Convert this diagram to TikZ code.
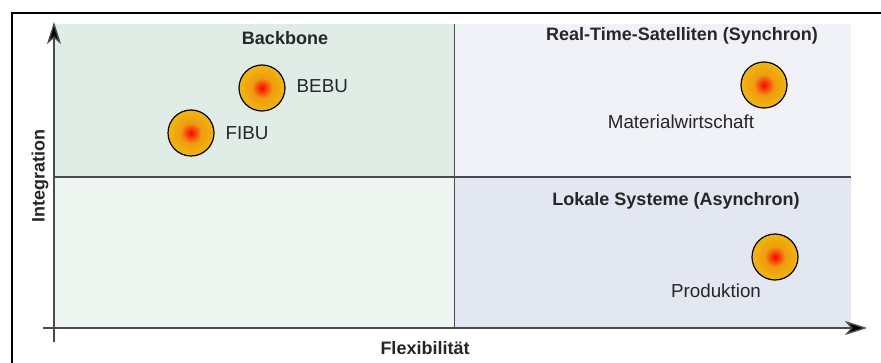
\documentclass[tikz,border=0pt]{standalone}
\usepackage{fontspec}
\setmainfont{Liberation Sans}
\usetikzlibrary{arrows.meta,positioning}

\definecolor{bbgreen}{HTML}{E0EDE7}
\definecolor{lowgreen}{HTML}{EFF5F1}
\definecolor{satblue}{HTML}{F0F2F7}
\definecolor{lokblue}{HTML}{E3E7F2}
\definecolor{axisgray}{HTML}{4A4A4A}
\definecolor{balledge}{HTML}{F3C300}
\definecolor{ballmid}{HTML}{EE9A12}
\pgfdeclareradialshading{ball}{\pgfpoint{0bp}{0bp}}{color(0bp)=(red);color(11bp)=(ballmid);color(30bp)=(balledge);color(50bp)=(balledge)}

\tikzset{
  system/.style={circle,draw=black,line width=0.6pt,shading=ball,minimum size=23pt,inner sep=0pt},
  sysname/.style={font=\fontsize{9.4}{11}\selectfont,text=black!85},
  quadtitle/.style={font=\bfseries\fontsize{9}{11}\selectfont,text=black!85},
  axis/.style={draw=axisgray,line width=0.7pt,-{Stealth[length=11pt,width=7pt,inset=3pt,fill=black]},shorten >=-1pt}
}

\begin{document}
\begin{tikzpicture}[x=0.5pt,y=-0.5pt]
  \useasboundingbox (0,0) rectangle (881,363);

  % Quadranten
  \fill[bbgreen] (54,24) rectangle (454,177);
  \fill[lowgreen] (54,177) rectangle (454,328);
  \fill[satblue] (454,24) rectangle (851,177);
  \fill[lokblue] (454,177) rectangle (851,328);
  \draw[axisgray,line width=0.5pt] (54,177) -- (851,177);
  \draw[axisgray,line width=0.5pt] (454,24) -- (454,328);

  % Rahmen
  \draw[black,line width=0.6pt] (12,363) -- (12,13) -- (881,13);

  % Achsen
  \coordinate (ystart) at (54,342);
  \coordinate (ytop) at (54,24);
  \coordinate (xstart) at (43,328);
  \coordinate (xend) at (865,328);
  \draw[axis] (ystart) -- (ytop);
  \draw[axis] (xstart) -- (xend);

  \node[quadtitle] (backbone) at (285,38) {Backbone};
  \node[quadtitle] (satelliten) at (682,36) {Real-Time-Satelliten (Synchron)};
  \node[quadtitle] (lokal) at (676,201) {Lokale Systeme (Asynchron)};
  \node[quadtitle,rotate=90] (integration) at (40,176) {Integration};
  \node[quadtitle] (flexibilitaet) at (425,348) {Flexibilität};

  % Systeme
  \node[system] (bebu) at (262,88) {};
  \node[sysname,right=2pt of bebu,yshift=1pt] (bebulabel) {BEBU};
  \node[system] (fibu) at (191,133) {};
  \node[sysname,right=2pt of fibu] (fibulabel) {FIBU};
  \node[system] (mawi) at (764,85) {};
  \node[sysname] (mawilabel) at (681,122) {Materialwirtschaft};
  \node[system] (prod) at (775,257) {};
  \node[sysname] (prodlabel) at (716,291) {Produktion};
\end{tikzpicture}
\end{document}
